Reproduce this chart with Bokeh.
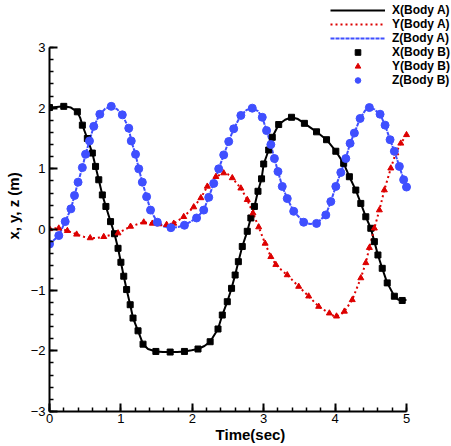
from bokeh.plotting import figure
from bokeh.models import Range1d, Legend, LegendItem, FixedTicker
from bokeh.embed import file_html
from bokeh.resources import INLINE

# ---------------- data ----------------
# Body B sample points (markers)
tx_b = [0.00, 0.20, 0.39, 0.46, 0.53, 0.60, 0.645, 0.69, 0.74, 0.79, 0.855, 0.91, 0.96, 1.00, 1.04,
        1.08, 1.13, 1.17, 1.24, 1.31, 1.49, 1.69, 1.89, 2.08, 2.25, 2.36, 2.42, 2.49, 2.55, 2.60,
        2.645, 2.70, 2.77, 2.82, 2.87, 2.92, 2.97, 3.00, 3.07, 3.12, 3.21, 3.39, 3.57, 3.74, 3.88,
        4.01, 4.12, 4.20, 4.29, 4.36, 4.43, 4.50, 4.55, 4.60, 4.66, 4.73, 4.83, 4.94]
x_b = [2.01, 2.03, 1.94, 1.72, 1.50, 1.26, 1.04, 0.82, 0.57, 0.38, 0.13, -0.07, -0.31, -0.54, -0.77,
       -0.99, -1.24, -1.46, -1.67, -1.89, -2.01, -2.02, -2.01, -1.97, -1.85, -1.64, -1.41, -1.19, -0.97, -0.75,
       -0.53, -0.28, -0.03, 0.19, 0.38, 0.63, 0.835, 1.08, 1.31, 1.52, 1.73, 1.85, 1.75, 1.61, 1.48,
       1.29, 1.09, 0.87, 0.65, 0.43, 0.21, 0.02, -0.20, -0.42, -0.64, -0.88, -1.10, -1.17]

ty_b = [0.00, 0.13, 0.25, 0.38, 0.57, 0.76, 0.96, 1.135, 1.32, 1.44, 1.53, 1.64, 1.74, 1.88, 2.02,
        2.12, 2.21, 2.33, 2.44, 2.56, 2.68, 2.77, 2.85, 2.93, 3.02, 3.10, 3.17, 3.33, 3.49, 3.63,
        3.77, 3.92, 4.02, 4.13, 4.24, 4.36, 4.43, 4.48, 4.55, 4.62, 4.69, 4.78, 4.85, 4.92, 5.00]
y_b = [0.01, 0.02, -0.02, -0.08, -0.14, -0.12, -0.06, 0.05, 0.12, 0.10, 0.09, 0.08, 0.10, 0.21, 0.37,
       0.52, 0.71, 0.87, 0.93, 0.85, 0.68, 0.49, 0.27, 0.04, -0.23, -0.45, -0.58, -0.75, -0.94, -1.10,
       -1.27, -1.38, -1.43, -1.35, -1.16, -0.80, -0.55, -0.30, 0.02, 0.32, 0.65, 1.01, 1.26, 1.42, 1.56]

tz_b = [0.00, 0.13, 0.22, 0.30, 0.35, 0.40, 0.46, 0.505, 0.56, 0.62, 0.705, 0.865, 1.02, 1.11, 1.145,
        1.205, 1.25, 1.30, 1.36, 1.415, 1.51, 1.70, 1.89, 2.06, 2.16, 2.23, 2.30, 2.37, 2.44, 2.51,
        2.58, 2.68, 2.84, 2.98, 3.04, 3.10, 3.15, 3.20, 3.26, 3.33, 3.42, 3.56, 3.74, 3.87, 3.94,
        4.01, 4.08, 4.15, 4.21, 4.27, 4.35, 4.48, 4.63, 4.70, 4.77, 4.83, 4.90, 4.96, 5.00]
z_b = [-0.24, -0.10, 0.13, 0.34, 0.56, 0.78, 1.02, 1.24, 1.46, 1.70, 1.90, 2.03, 1.89, 1.67, 1.46,
       1.24, 1.00, 0.78, 0.54, 0.32, 0.12, 0.03, 0.07, 0.19, 0.32, 0.53, 0.76, 1.00, 1.23, 1.45,
       1.66, 1.88, 2.00, 1.85, 1.63, 1.40, 1.17, 0.955, 0.71, 0.51, 0.30, 0.12, 0.10, 0.24, 0.46,
       0.71, 0.94, 1.17, 1.42, 1.59, 1.83, 2.01, 1.90, 1.72, 1.48, 1.29, 1.04, 0.82, 0.70]

# Body A extra curve points (between markers)
tx_a_extra = [0.10, 0.30, 0.43, 1.38, 1.59, 1.79, 1.99, 2.17, 3.30, 3.48, 4.89, 5.00]
x_a_extra = [2.02, 2.01, 1.84, -1.97, -2.02, -2.02, -1.99, -1.92, 1.81, 1.82, -1.16, -1.16]
ty_a_extra = [0.06, 0.48, 0.66, 0.86, 2.50, 3.25, 3.97, 4.07]
y_a_extra = [0.02, -0.12, -0.14, -0.09, 0.91, -0.67, -1.42, -1.41]
tz_a_extra = [0.78, 0.95, 1.60, 1.80, 2.76, 2.92, 3.65, 4.42, 4.55]
z_a_extra = [1.99, 1.98, 0.05, 0.04, 1.97, 1.95, 0.09, 1.96, 1.98]

x_ticks = [0, 1, 2, 3, 4, 5]
y_ticks = [-3, -2, -1, 0, 1, 2, 3]

labels = ["X(Body A)", "Y(Body A)", "Z(Body A)", "X(Body B)", "Y(Body B)", "Z(Body B)"]


def merged(t1, v1, t2, v2):
    pairs = sorted(zip(list(t1) + list(t2), list(v1) + list(v2)))
    return [p[0] for p in pairs], [p[1] for p in pairs]


tx_a, x_a = merged(tx_b, x_b, tx_a_extra, x_a_extra)
ty_a, y_a = merged(ty_b, y_b, ty_a_extra, y_a_extra)
tz_a, z_a = merged(tz_b, z_b, tz_a_extra, z_a_extra)

# ---------------- figure ----------------
RED = "#dd0000"
BLUE = "#3f4fff"
FONT = "Liberation Sans"

W, H = 451, 446
LEFT, RIGHT_AX, TOP_AX, BOTTOM = 49, 406, 47, 411   # pixel extent of the axes box
x_end = 5 * (W - LEFT) / (RIGHT_AX - LEFT)
y_end = -3 + 6 * (BOTTOM - 0) / (BOTTOM - TOP_AX)

p = figure(width=W, height=H, output_backend="svg", toolbar_location=None,
           x_range=Range1d(0, x_end), y_range=Range1d(-3, y_end),
           min_border_left=LEFT, min_border_right=0, min_border_top=0,
           min_border_bottom=H - BOTTOM)
p.outline_line_color = None
p.grid.visible = False
p.background_fill_color = "white"
p.border_fill_color = "white"

p.xaxis.bounds = (0, 5)
p.yaxis.bounds = (-3, 3)

x_minor = [round(i * 0.2, 2) for i in range(26)]
y_minor = [round(i * 0.2 - 3, 2) for i in range(31)]

for ax, ticks, minor in ((p.xaxis[0], x_ticks, x_minor), (p.yaxis[0], y_ticks, y_minor)):
    ax.ticker = FixedTicker(ticks=ticks, minor_ticks=minor)
    ax.axis_line_width = 2
    ax.axis_line_color = "black"
    ax.major_tick_in = 8
    ax.major_tick_out = 0
    ax.minor_tick_in = 4
    ax.minor_tick_out = 0
    ax.major_tick_line_width = 2
    ax.minor_tick_line_width = 1.5
    ax.major_tick_line_color = "black"
    ax.minor_tick_line_color = "black"
    ax.major_label_text_font = FONT
    ax.major_label_text_font_size = "13px"
    ax.major_label_text_color = "black"
    ax.axis_label_text_font = FONT
    ax.axis_label_text_font_style = "bold"
    ax.axis_label_text_font_size = "15px"
    ax.axis_label_text_color = "black"

p.xaxis.axis_label = "Time(sec)"
p.yaxis.axis_label = "x, y, z (m)"
p.xaxis.major_label_standoff = 2
p.xaxis.axis_label_standoff = 0
p.yaxis.major_label_standoff = 4
p.yaxis.axis_label_standoff = 6

lx = p.line(tx_a, x_a, line_color="black", line_width=2)
ly = p.line(ty_a, y_a, line_color=RED, line_width=2, line_dash="2 3")
lz = p.line(tz_a, z_a, line_color=BLUE, line_width=2, line_dash="4 1")
mx = p.scatter(tx_b, x_b, marker="square", size=6, fill_color="black", line_color="black")
my = p.scatter(ty_b, y_b, marker="triangle", size=6, fill_color=RED, line_color=RED)
mz = p.scatter(tz_b, z_b, marker="circle", size=8, fill_color=BLUE, line_color=BLUE)

legend = Legend(items=[LegendItem(label=lab, renderers=[r]) for lab, r in
                       zip(labels, [lx, ly, lz, mx, my, mz])],
                location=(281, 324))
legend.glyph_width = 55
legend.glyph_height = 14
legend.label_height = 14
legend.spacing = 0
legend.padding = 0
legend.margin = 0
legend.label_standoff = 7
legend.label_text_font = FONT
legend.label_text_font_style = "bold"
legend.label_text_font_size = "12px"
legend.label_text_color = "black"
legend.border_line_color = None
legend.background_fill_alpha = 0
p.add_layout(legend)

open("out.html", "w").write(file_html(p, INLINE))
